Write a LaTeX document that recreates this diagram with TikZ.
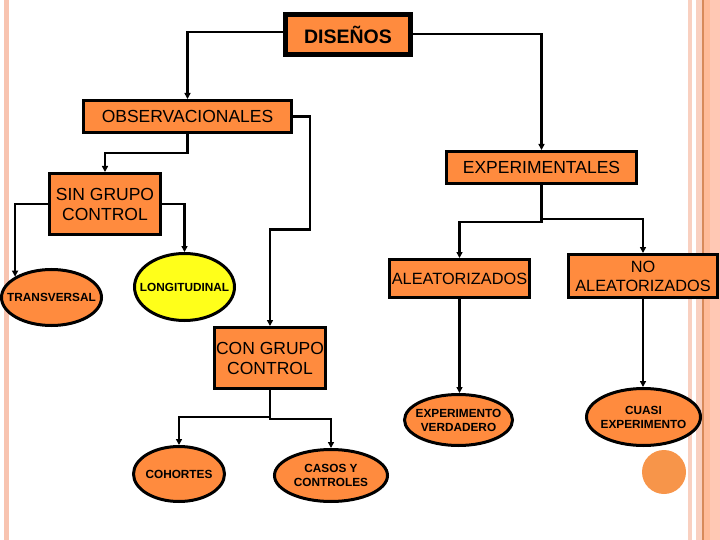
\documentclass[tikz,border=0pt]{standalone}
\usepackage{fontspec}
\setmainfont{Liberation Sans}
\usetikzlibrary{arrows.meta,shapes.geometric}
\definecolor{orfill}{HTML}{FF8B3E}
\definecolor{circfill}{HTML}{F7954A}
\definecolor{yelfill}{HTML}{FFFF1A}
\definecolor{stripeA}{HTML}{F8C4B0}
\definecolor{stripeB}{HTML}{F9D0C0}
\definecolor{stripeC}{HTML}{D88A5A}
\definecolor{stripeD}{HTML}{FFBB99}
\definecolor{stripeE}{HTML}{FFC8B4}
\begin{document}
\begin{tikzpicture}[x=1pt,y=-1pt,
  box/.style={draw=black,line width=3pt,fill=orfill,inner sep=0pt,align=center,
    font=\fontsize{17.5}{20}\selectfont},
  ell/.style={ellipse,draw=black,line width=3pt,fill=orfill,inner sep=0pt},
  elab/.style={font=\bfseries\fontsize{11.8}{14}\selectfont,align=center,inner sep=0pt},
  conn/.style={line width=2.3pt,-{Triangle[length=6pt,width=6pt]}}]
\useasboundingbox (0,0) rectangle (720,540);
% page decoration
\fill[stripeA] (4,0) rectangle (9,540);
\fill[stripeB] (688,0) rectangle (692,540);
\fill[stripeB] (696,0) rectangle (702,540);
\fill[stripeC] (702,0) rectangle (703.5,540);
\fill[stripeD] (703.5,0) rectangle (710,540);
\fill[stripeE] (710,0) rectangle (720,540);
% nodes
\node[box,line width=5pt,minimum width=125pt,minimum height=40pt,
  font=\bfseries\fontsize{19.5}{22}\selectfont] (dis) at (348,35) {DISEÑOS};
\node[box,minimum width=208pt,minimum height=32pt] (obs) at (187.5,116.5) {OBSERVACIONALES};
\node[box,minimum width=190pt,minimum height=32pt] (exp) at (541.5,167.5) {EXPERIMENTALES};
\node[box,minimum width=111pt,minimum height=61pt] (sin) at (105,204) {SIN GRUPO\\CONTROL};
\node[box,minimum width=140pt,minimum height=38pt,font=\fontsize{16.3}{19}\selectfont] (ale) at (459.5,278.5) {ALEATORIZADOS};
\node[box,minimum width=149pt,minimum height=43pt,font=\fontsize{16.3}{19}\selectfont] (noa) at (643,276) {NO\\ALEATORIZADOS};
\node[box,minimum width=111pt,minimum height=61pt] (con) at (270,358) {CON GRUPO\\CONTROL};
\node[ell,minimum width=100pt,minimum height=56pt,label={[elab]center:TRANSVERSAL}] (tra) at (51.5,297.5) {};
\node[ell,fill=yelfill,minimum width=100pt,minimum height=67pt,label={[elab]center:LONGITUDINAL}] (lon) at (184.5,287) {};
\node[ell,minimum width=91pt,minimum height=55pt,label={[elab]center:COHORTES}] (coh) at (179,474) {};
\node[ell,minimum width=113pt,minimum height=52pt,label={[elab]center:{CASOS Y\\CONTROLES}}] (cas) at (331,475.5) {};
\node[ell,minimum width=108pt,minimum height=51pt,label={[elab]center:{EXPERIMENTO\\VERDADERO}}] (ver) at (458.5,420) {};
\node[ell,minimum width=114pt,minimum height=57pt,label={[elab]center:{CUASI\\EXPERIMENTO}}] (cua) at (643.5,417) {};
\node[circle,fill=circfill,minimum size=44pt,inner sep=0pt] (dot) at (664,472) {};
% connectors
\draw[conn] ([yshift=3pt]dis.west) -| (obs.north);
\draw[conn] ([yshift=1pt]dis.east) -| (exp.north);
\draw[conn] (obs.east) -| ++(17,113) -| (con.north);
\draw[conn] (obs.south) -- ++(0,19) -| (sin.north);
\draw[conn] (sin.west) -| (tra.north west);
\draw[conn] (sin.east) -| (lon.north);
\draw[conn] (exp.south) -- ++(0,37) -| (ale.north);
\draw[conn] (exp.south) -- ++(0,34) -| (noa.north);
\draw[conn] (ale.south) -- (ale.south |- ver.north);
\draw[conn] (noa.south) -- (noa.south |- cua.north);
\draw[conn] (con.south) -- ++(0,27) -| (coh.north);
\draw[conn] (con.south) -- ++(0,29) -| (cas.north);
\end{tikzpicture}
\end{document}
